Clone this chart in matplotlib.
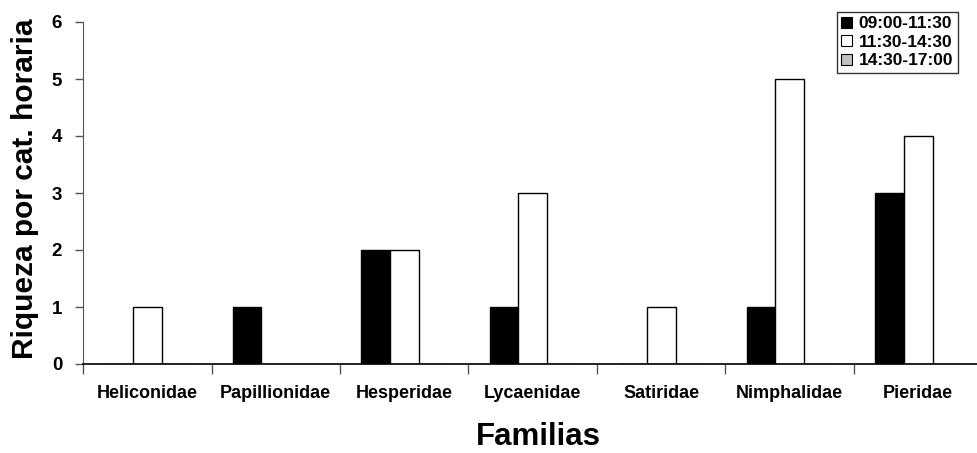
import matplotlib
matplotlib.use("Agg")
import matplotlib.pyplot as plt
import numpy as np
from matplotlib.patches import Patch

plt.rcParams['font.family'] = ['Liberation Sans', 'DejaVu Sans']
plt.rcParams['font.weight'] = 'bold'

familias = ["Heliconidae", "Papillionidae", "Hesperidae", "Lycaenidae",
            "Satiridae", "Nimphalidae", "Pieridae"]
series_labels = ["09:00-11:30", "11:30-14:30", "14:30-17:00"]
manana = [0, 1, 2, 1, 0, 1, 3]
mediodia = [1, 0, 2, 3, 1, 5, 4]
tarde = [0, 0, 0, 0, 0, 0, 0]
yticks = [0, 1, 2, 3, 4, 5, 6]

W, H = 977, 453
fig = plt.figure(figsize=(W / 100, H / 100), dpi=100)
ax = fig.add_axes([83 / W, (H - 364) / H, 899.5 / W, 342 / H])

n = len(familias)
x = np.arange(n)
bw = 1 / 4.5
colors = ["black", "white", "#c0c0c0"]
for i, (vals, c) in enumerate(zip([manana, mediodia, tarde], colors)):
    ax.bar(x - 0.5 + 0.75 * bw + (i + 0.5) * bw, vals, width=bw,
           color=c, edgecolor="black", linewidth=1.0, zorder=2)

ax.set_xlim(-0.5, n - 0.5)
ax.set_ylim(0, 6)
ax.set_yticks(yticks)
ax.set_yticklabels([str(v) for v in yticks], fontsize=13.5, fontweight='bold')
ax.set_xticks(x)
ax.set_xticklabels(familias, fontsize=13, fontweight='bold')
ax.set_xticks(np.arange(-0.5, n, 1.0), minor=True)
ax.tick_params(axis='x', which='major', length=0, pad=15)
ax.tick_params(axis='x', which='minor', length=7, width=1, color='#555555', direction='out')
ax.tick_params(axis='y', which='major', length=6, width=1, color='#555555', direction='out', pad=9)

for s in ['top', 'right']:
    ax.spines[s].set_visible(False)
ax.spines['left'].set_color('#555555')
ax.spines['bottom'].set_color('black')
ax.spines['bottom'].set_linewidth(1.2)

fig.text(25 / W, 1 - 189 / H, "Riqueza por cat. horaria", rotation=90,
         ha='center', va='center', fontsize=21.5, fontweight='bold')
fig.text(538 / W, 1 - 437 / H, "Familias", ha='center', va='center',
         fontsize=22.5, fontweight='bold')

handles = [Patch(facecolor=c, edgecolor='black', linewidth=0.8) for c in colors]
leg = fig.legend(handles, series_labels, loc='upper left',
                 bbox_to_anchor=(837 / W, 1 - 12 / H), frameon=True,
                 fancybox=False, edgecolor='black',
                 prop={'weight': 'bold', 'size': 12.5},
                 handlelength=0.6, handleheight=0.6, handletextpad=0.4,
                 borderpad=0.25, labelspacing=0.2, borderaxespad=0)
leg.get_frame().set_linewidth(1.0)

fig.savefig("out.png", dpi=100)
